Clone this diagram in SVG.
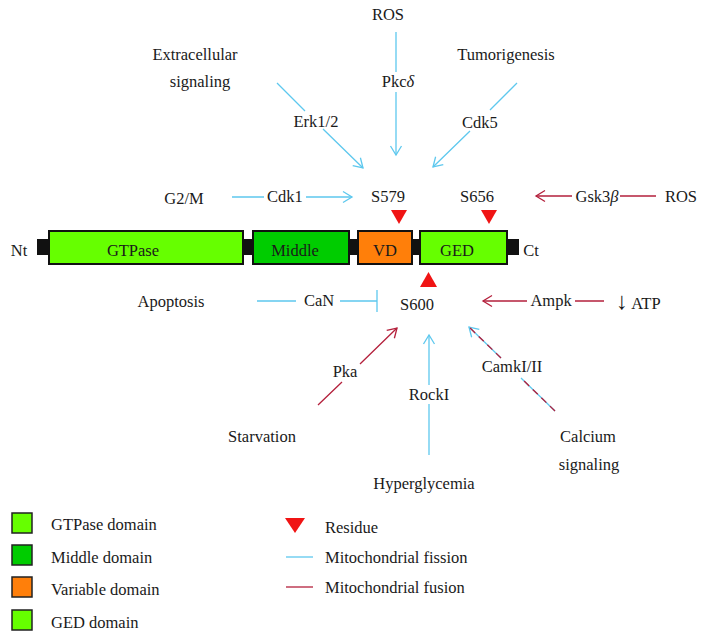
<svg xmlns="http://www.w3.org/2000/svg" width="706" height="641" viewBox="0 0 706 641">
<style>
text{font-family:"Liberation Serif","Times New Roman",serif;font-size:16.5px;fill:#1a1a1a}
.m{text-anchor:middle}
.fi{fill:none;stroke:#5ec8ee;stroke-width:1.3}
.fu{fill:none;stroke:#b4203c;stroke-width:1.3}
.box{stroke:#111;stroke-width:2}
.tri{fill:#f01414}
.lg{stroke:#222;stroke-width:1.5}
</style>
<defs>
<marker id="ab" markerUnits="userSpaceOnUse" markerWidth="20" markerHeight="20" refX="10" refY="10" orient="auto" overflow="visible">
<path d="M1,4.5 L10,10 L1,15.5" fill="none" stroke="#5ec8ee" stroke-width="1.3"/>
</marker>
<marker id="ar" markerUnits="userSpaceOnUse" markerWidth="20" markerHeight="20" refX="10" refY="10" orient="auto" overflow="visible">
<path d="M1,4.5 L10,10 L1,15.5" fill="none" stroke="#b4203c" stroke-width="1.3"/>
</marker>
</defs>
<rect width="706" height="641" fill="#fff"/>

<g id="protein">
<rect x="37" y="239" width="482" height="16" fill="#111"/>
<rect id="gtpase" class="box" x="49" y="231" width="194" height="33" fill="#66ff00"/>
<rect id="middle" class="box" x="253" y="231" width="96" height="33" fill="#00cc00"/>
<rect id="vd" class="box" x="358" y="231" width="54" height="33" fill="#ff7f0a"/>
<rect id="ged" class="box" x="420" y="231" width="87" height="33" fill="#66ff00"/>
<text class="m" x="133" y="256">GTPase</text>
<text class="m" x="295" y="256">Middle</text>
<text class="m" x="385" y="256">VD</text>
<text class="m" x="457" y="256">GED</text>
<text class="m" x="19" y="256">Nt</text>
<text class="m" x="531" y="256">Ct</text>
</g>

<g id="residues">
<polygon class="tri" points="391,210 407,210 399,224"/>
<polygon class="tri" points="481,210 497,210 489,224"/>
<polygon class="tri" points="420,287 437,287 428.5,272"/>
<text class="m" x="388" y="202">S579</text>
<text class="m" x="477" y="202">S656</text>
<text class="m" x="417" y="310">S600</text>
</g>

<g id="connectors">
<path class="fi" d="M277,83 L305,111 M323,129 L363,168" marker-end="url(#ab)"/>
<path class="fi" d="M396,32 L396,72 M396,92 L396,155" marker-end="url(#ab)"/>
<path class="fi" d="M517,83 L490,110 M470,131 L433,167" marker-end="url(#ab)"/>
<path class="fi" d="M232,197 L264,197 M306,197 L352,197" marker-end="url(#ab)"/>
<path class="fu" d="M656,196 L620,196 M572,196 L536,196" marker-end="url(#ar)"/>
<path class="fi" d="M257,301 L296,301 M340,301 L377,301 M377,290 L377,312"/>
<path class="fu" d="M604,301 L575,301 M527,301 L483,301" marker-end="url(#ar)"/>
<path class="fu" d="M318,405 L342,382 M360,364 L397,328" marker-end="url(#ar)"/>
<path class="fi" d="M429,455 L429,404 M429,385 L429,335" marker-end="url(#ab)"/>
<path class="fi" d="M555,411 L521,378 M501,358 L469,327" marker-end="url(#ab)"/>
<path class="fu" d="M555,411 L521,378 M501,358 L469,327" stroke-dasharray="7 5"/>
</g>

<g id="labels">
<text class="m" x="388" y="20">ROS</text>
<text class="m" x="195" y="60">Extracellular</text>
<text class="m" x="200" y="87">signaling</text>
<text class="m" x="506" y="60">Tumorigenesis</text>
<text class="m" x="398" y="87">Pkc<tspan font-style="italic">δ</tspan></text>
<text class="m" x="316" y="127">Erk1/2</text>
<text class="m" x="480" y="128">Cdk5</text>
<text class="m" x="184" y="204">G2/M</text>
<text class="m" x="285" y="202">Cdk1</text>
<text class="m" x="597" y="202">Gsk3<tspan font-style="italic">β</tspan></text>
<text class="m" x="681" y="202">ROS</text>
<text class="m" x="171" y="307">Apoptosis</text>
<text class="m" x="319" y="306">CaN</text>
<text class="m" x="551" y="306">Ampk</text>
<text x="616" y="309"><tspan font-size="24">↓</tspan> ATP</text>
<text class="m" x="345" y="377">Pka</text>
<text class="m" x="512" y="372">CamkI/II</text>
<text class="m" x="429" y="400">RockI</text>
<text class="m" x="262" y="442">Starvation</text>
<text class="m" x="588" y="442">Calcium</text>
<text class="m" x="589" y="470">signaling</text>
<text class="m" x="424" y="489">Hyperglycemia</text>
</g>

<g id="legend">
<rect class="lg" x="12" y="513" width="20" height="20" fill="#66ff00"/>
<rect class="lg" x="12" y="545" width="20" height="20" fill="#00cc00"/>
<rect class="lg" x="12" y="577" width="20" height="20" fill="#ff7f0a"/>
<rect class="lg" x="12" y="610" width="20" height="20" fill="#66ff00"/>
<text x="51" y="530">GTPase domain</text>
<text x="51" y="563">Middle domain</text>
<text x="51" y="595">Variable domain</text>
<text x="51" y="628">GED domain</text>
<polygon class="tri" points="285,518 305,518 295,533"/>
<line class="fi" x1="286" y1="557" x2="313" y2="557"/>
<line class="fu" x1="286" y1="587" x2="313" y2="587"/>
<text x="325" y="533">Residue</text>
<text x="325" y="563">Mitochondrial fission</text>
<text x="325" y="593">Mitochondrial fusion</text>
</g>
</svg>
